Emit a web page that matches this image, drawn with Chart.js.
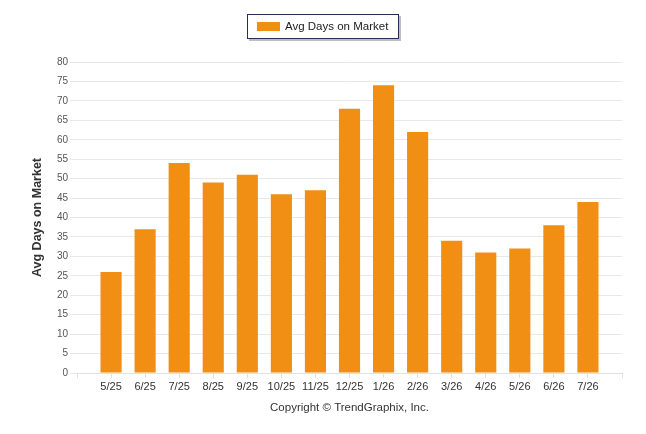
<!DOCTYPE html>
<html>
<head>
<meta charset="utf-8">
<script src="https://cdn.jsdelivr.net/npm/chart.js@4"></script>
<style>
  html, body { margin: 0; padding: 0; background: #fff; }
  #wrap { width: 646px; height: 434px; }
</style>
</head>
<body>
<div id="wrap"><canvas id="market_chart"></canvas></div>
<script>
// months shown on the axis, and the avg days on market for each
var months = ['5/25', '6/25', '7/25', '8/25', '9/25', '10/25', '11/25', '12/25',
              '1/26', '2/26', '3/26', '4/26', '5/26', '6/26', '7/26'];
var avg_days = [26, 37, 54, 49, 51, 46, 47, 68, 74, 62, 34, 31, 32, 38, 44];
var y_ticks = [0, 80, 5]; // min, max, step

var series_label = 'Avg Days on Market';
var bar_color = '#f18e14';

// empty slot at each end so the bars sit on the ticks like the original
var labels = [''].concat(months, ['']);
var values = [null].concat(avg_days, [null]);

var narrow = "'Liberation Sans Narrow', 'Liberation Sans', Arial, sans-serif";
var sans = "'Liberation Sans', Arial, sans-serif";

// boxed legend with a little drop shadow
var box_legend = {
    id: 'box_legend',
    afterDraw: function (chart) {
        var ctx = chart.ctx;
        var x = 247, y = 14, w = 152, h = 25;
        ctx.save();
        ctx.fillStyle = 'rgba(0,0,0,0.25)';
        ctx.fillRect(x + 2, y + 2, w, h);
        ctx.fillStyle = '#fff';
        ctx.fillRect(x, y, w, h);
        ctx.strokeStyle = '#1f3050';
        ctx.lineWidth = 1;
        ctx.strokeRect(x + 0.5, y + 0.5, w - 1, h - 1);
        ctx.fillStyle = bar_color;
        ctx.fillRect(x + 10, y + 8, 23, 9);
        ctx.fillStyle = '#222';
        ctx.font = '11.5px ' + sans;
        ctx.textBaseline = 'middle';
        ctx.fillText(chart.data.datasets[0].label, x + 38, y + 13);
        ctx.restore();
    }
};

new Chart(document.getElementById('market_chart'),
    {
        type: 'bar',
        data:
        {
            labels: labels,
            datasets: [
                {
                    label: series_label,
                    backgroundColor: bar_color,
                    data: values,
                    barPercentage: 0.62,
                    categoryPercentage: 1
                }
            ]
        },
        options:
        {
            responsive: true,
            maintainAspectRatio: false,
            animation: false,
            layout: { padding: { left: 10, right: 24, top: 62, bottom: 0 } },
            plugins: {
                legend: { display: false },
                tooltip: { enabled: false }
            },
            scales: {
                x: {
                    offset: false,
                    grid: {
                        offset: false,
                        drawOnChartArea: false,
                        drawTicks: true,
                        tickLength: 5,
                        color: '#e0e0e0'
                    },
                    border: { display: true, color: '#e0e0e0' },
                    ticks: {
                        autoSkip: false,
                        maxRotation: 0,
                        padding: 2,
                        color: '#333',
                        font: { family: narrow, size: 11 }
                    },
                    title: {
                        display: true,
                        text: 'Copyright \u00A9 TrendGraphix, Inc.',
                        color: '#333',
                        font: { family: sans, size: 11.5 },
                        padding: { top: 4, bottom: 19 }
                    },
                    afterFit: function (s) { s.height = 61; }
                },
                y: {
                    min: y_ticks[0],
                    max: y_ticks[1],
                    ticks: {
                        stepSize: y_ticks[2],
                        padding: 2,
                        color: '#555',
                        font: { family: narrow, size: 10 }
                    },
                    grid: {
                        color: '#e8e8e8',
                        drawTicks: true,
                        tickLength: 7
                    },
                    border: { display: false },
                    title: {
                        display: true,
                        text: series_label,
                        color: '#333',
                        font: { family: sans, size: 12.5, weight: 'bold' },
                        padding: { top: 20, bottom: 0 }
                    },
                    afterFit: function (s) { s.width = 67; }
                }
            }
        },
        plugins: [box_legend]
    });
</script>
</body>
</html>
